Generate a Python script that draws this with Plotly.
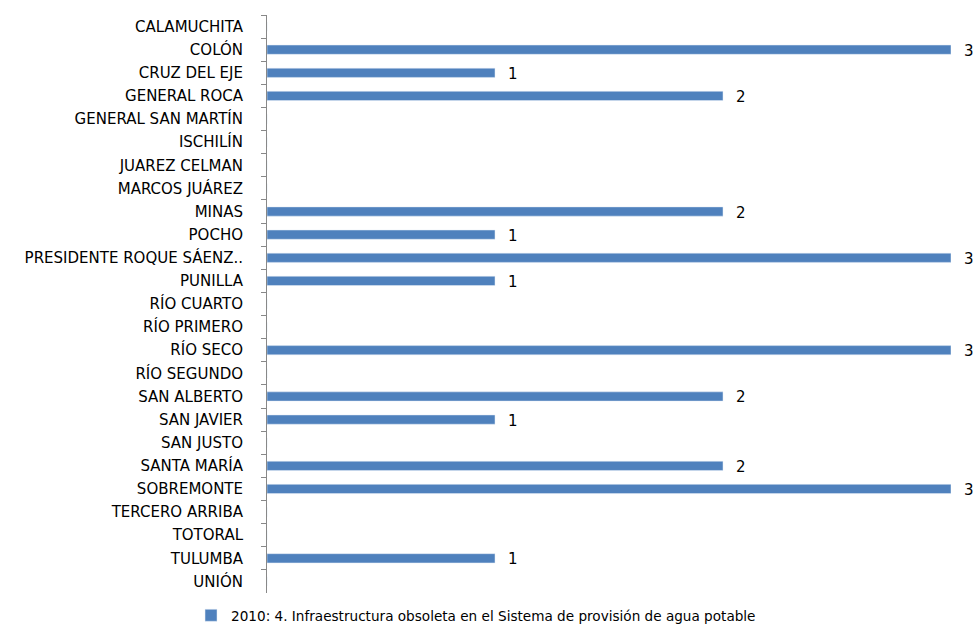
import plotly.graph_objects as go

departamentos = [
    "CALAMUCHITA", "COLÓN", "CRUZ DEL EJE", "GENERAL ROCA", "GENERAL SAN MARTÍN",
    "ISCHILÍN", "JUAREZ CELMAN", "MARCOS JUÁREZ", "MINAS", "POCHO",
    "PRESIDENTE ROQUE SÁENZ..", "PUNILLA", "RÍO CUARTO", "RÍO PRIMERO", "RÍO SECO",
    "RÍO SEGUNDO", "SAN ALBERTO", "SAN JAVIER", "SAN JUSTO", "SANTA MARÍA",
    "SOBREMONTE", "TERCERO ARRIBA", "TOTORAL", "TULUMBA", "UNIÓN",
]
valores = [0, 3, 1, 2, 0, 0, 0, 0, 2, 1, 3, 1, 0, 0, 3, 0, 2, 1, 0, 2, 3, 0, 0, 1, 0]
serie = "2010: 4. Infraestructura obsoleta en el Sistema de provisión de agua potable"

FONT = "DejaVu Sans"
COLOR = "#4F81BD"

fig = go.Figure()
fig.add_trace(go.Bar(
    y=departamentos,
    x=valores,
    orientation="h",
    name=serie,
    marker=dict(color=COLOR),
    showlegend=True,
))

# value labels beside each non-zero bar
for dep, v in zip(departamentos, valores):
    if v:
        fig.add_annotation(
            x=v, y=dep, text=str(v), showarrow=False,
            xanchor="left", xshift=11, yshift=-1,
            font=dict(family=FONT, size=15, color="#000000"),
        )

fig.update_layout(
    width=979, height=626,
    margin=dict(l=267, r=28, t=15, b=33, autoexpand=False),
    paper_bgcolor="white", plot_bgcolor="white",
    bargap=0.6,
    font=dict(family=FONT, size=15, color="#000000"),
    legend=dict(
        orientation="h", x=0.3056, xanchor="center",
        y=-0.012, yanchor="top",
        font=dict(family=FONT, size=13.6, color="#000000"),
        itemwidth=30,
    ),
    xaxis=dict(
        range=[0, 3], visible=False, showgrid=False, zeroline=False,
    ),
    yaxis=dict(
        autorange="reversed", type="category",
        showline=True, linecolor="#888888", linewidth=1,
        ticks="outside", ticklen=5, tickcolor="#888888", tickson="boundaries",
        showgrid=False, ticklabelstandoff=20,
        tickfont=dict(family=FONT, size=15, color="#000000"),
    ),
)

fig.write_html("out.html")
